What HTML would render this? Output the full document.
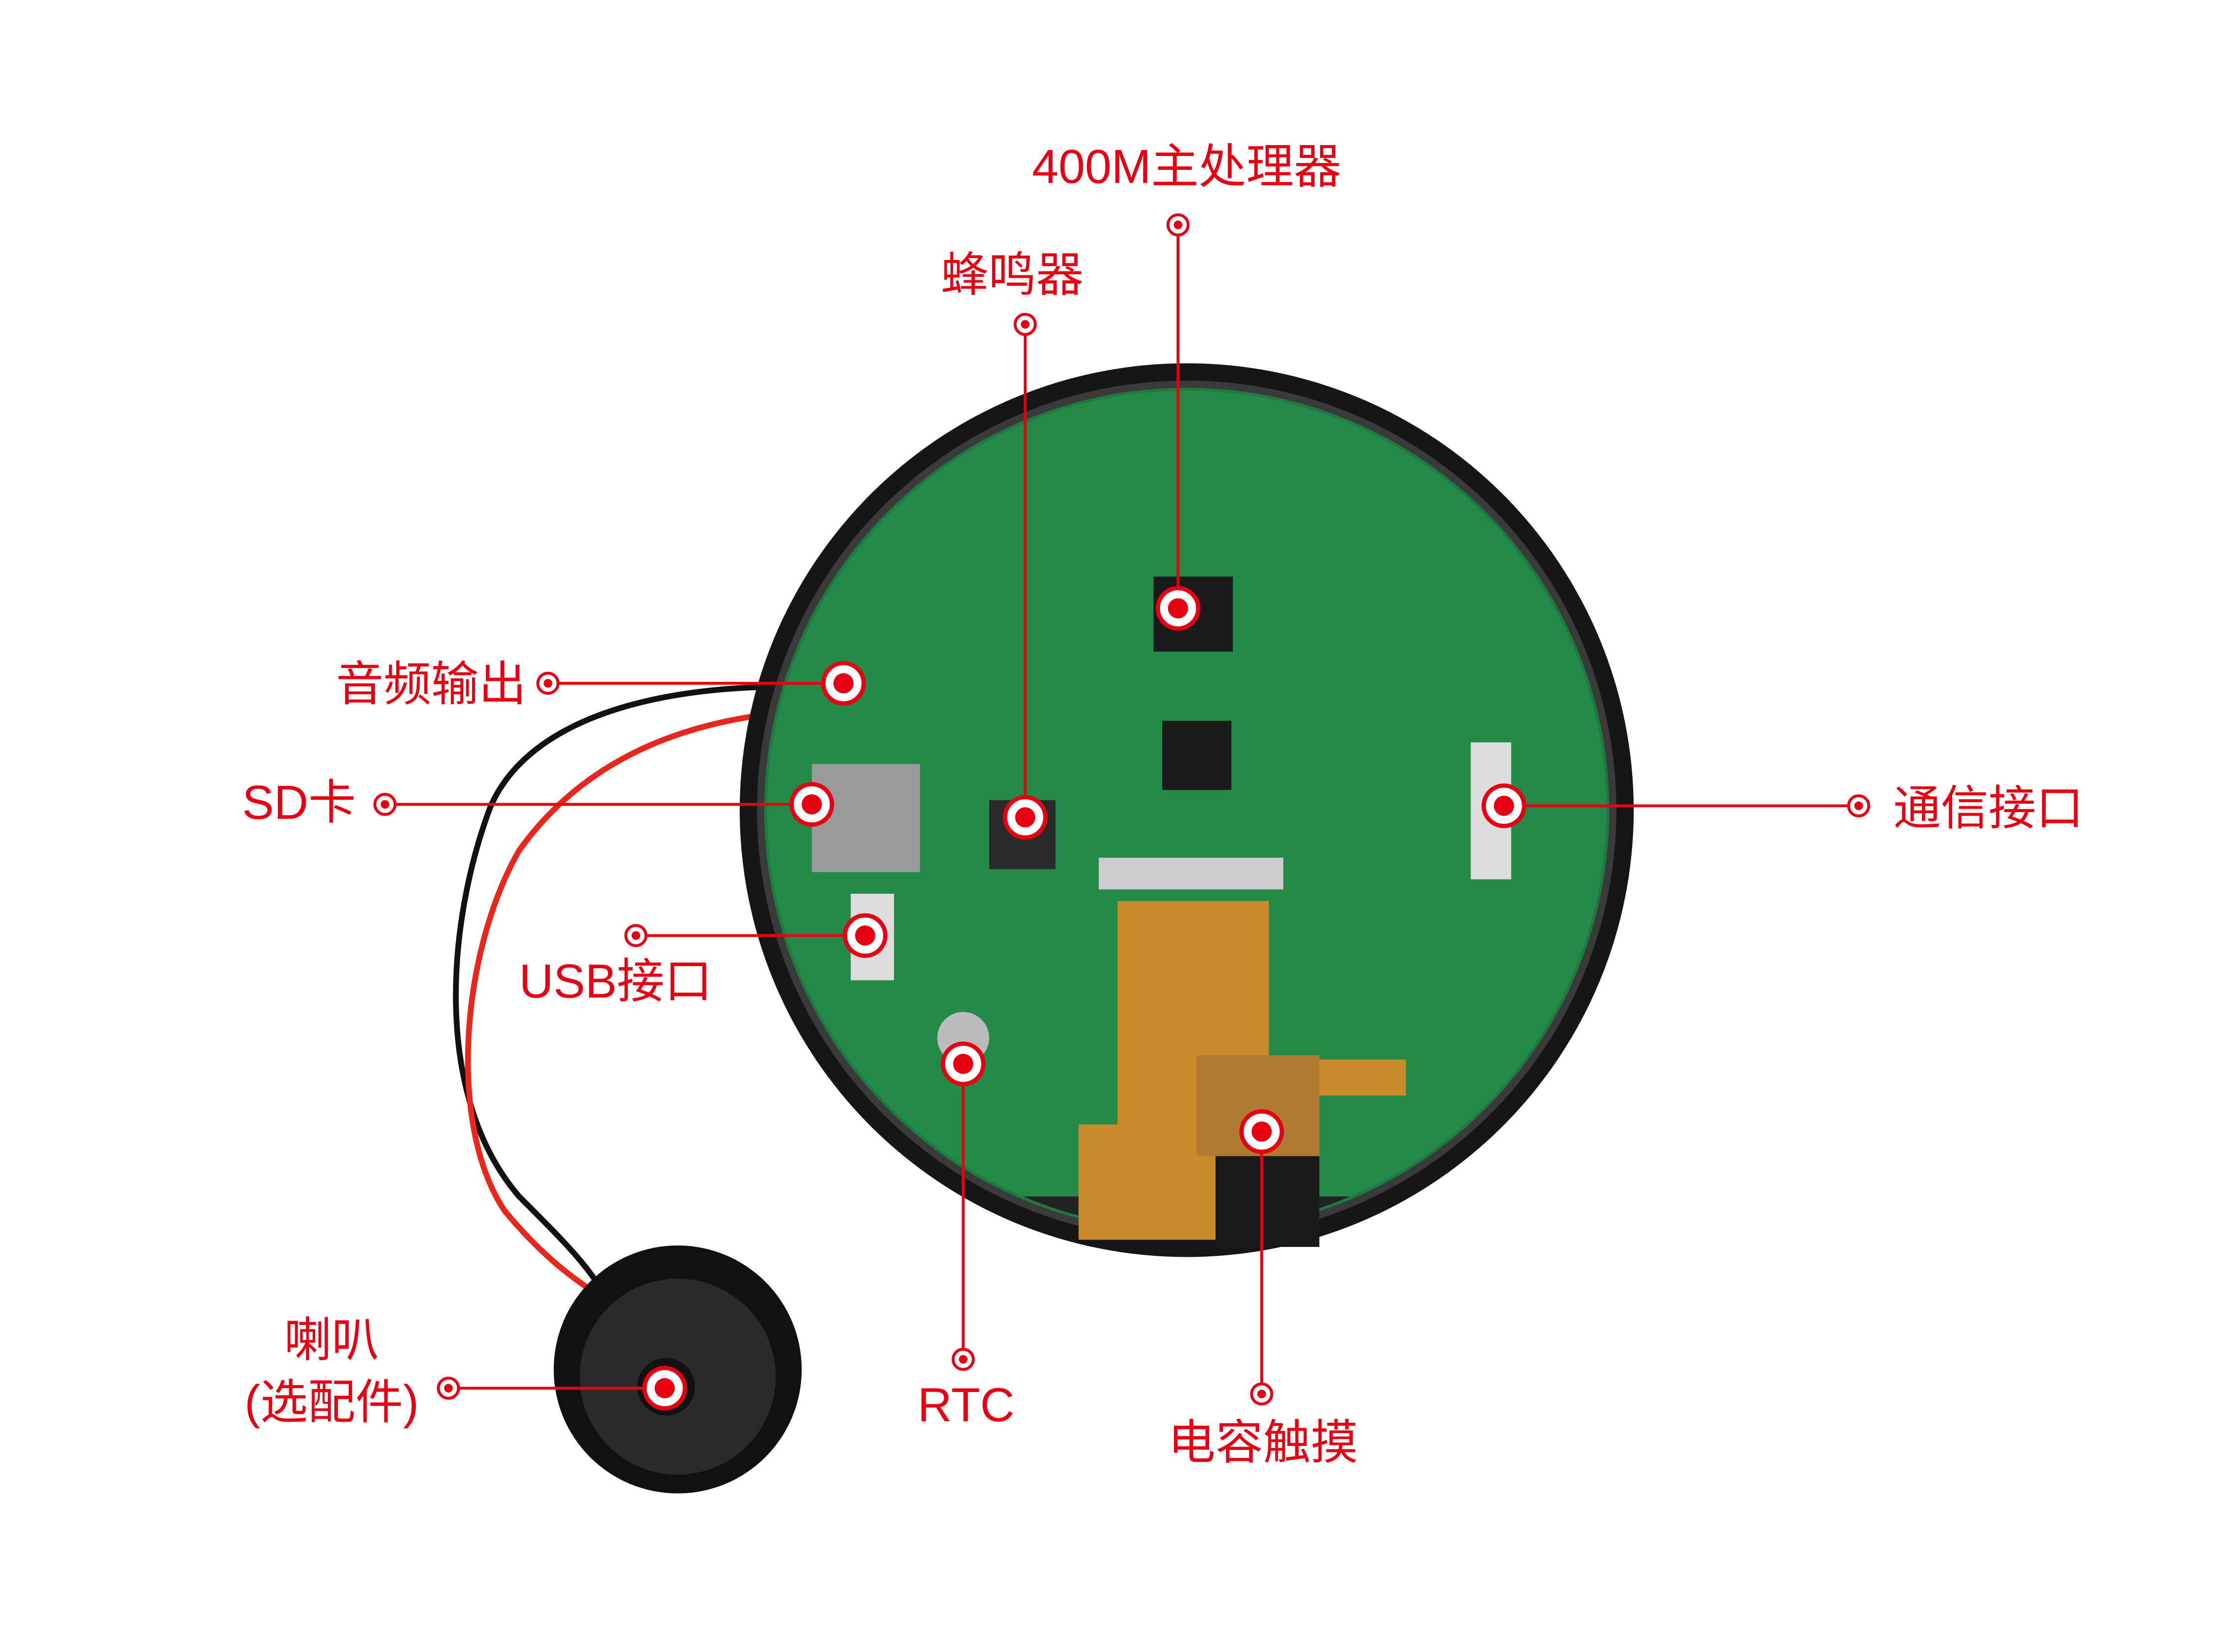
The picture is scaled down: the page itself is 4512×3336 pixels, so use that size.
<!DOCTYPE html>
<html><head><meta charset="utf-8"><style>
html,body{margin:0;padding:0;background:#fff;}
svg{display:block;}
text{font-family:"Liberation Sans","Noto Sans CJK SC",sans-serif;fill:#e60012;}
</style></head><body>
<svg width="4512" height="3336" viewBox="0 0 1550 1146" xmlns="http://www.w3.org/2000/svg">
<defs>
<g id="big"><circle r="14" fill="#fff" stroke="#e60012" stroke-width="3"/><circle r="7" fill="#e60012"/></g>
<g id="sm"><circle r="7" fill="#fff" stroke="#e60012" stroke-width="2"/><circle r="3" fill="#e60012"/></g>
<clipPath id="pcb"><circle cx="823" cy="562" r="292"/></clipPath>
</defs>
<!-- wires -->
<path d="M590 478 C480 470,370 490,340 560 C310 640,300 760,360 830 C390 860,410 880,420 900" fill="none" stroke="#111" stroke-width="4"/>
<path d="M590 492 C490 492,410 520,360 590 C320 660,310 780,350 840 C375 870,395 885,410 895" fill="none" stroke="#e8261b" stroke-width="4"/>
<!-- device -->
<circle cx="823" cy="562" r="310" fill="#161616"/>
<circle cx="823" cy="562" r="298" fill="#3a3a3a"/>
<g clip-path="url(#pcb)">
<rect x="500" y="260" width="700" height="580" fill="#238a4a"/>
<rect x="700" y="830" width="260" height="50" fill="#222"/>
</g>
<circle cx="823" cy="562" r="292" fill="none" stroke="#1e7a40" stroke-width="2"/>
<!-- chips -->
<rect x="800" y="400" width="55" height="52" fill="#1a1a1a"/>
<rect x="806" y="500" width="48" height="48" fill="#1a1a1a"/>
<rect x="686" y="555" width="46" height="48" fill="#2a2a2a"/>
<rect x="563" y="530" width="75" height="75" fill="#9a9a9a"/>
<rect x="1020" y="515" width="28" height="95" fill="#ddd"/>
<rect x="590" y="620" width="30" height="60" fill="#ddd"/>
<circle cx="668" cy="720" r="18" fill="#bbb"/>
<rect x="762" y="595" width="128" height="22" fill="#ccc"/>
<!-- flex -->
<path d="M775 625 H880 V735 H975 V760 H915 V860 H748 V780 H775 Z" fill="#c98a2e"/>
<rect x="843" y="800" width="72" height="65" fill="#1a1a1a"/>
<rect x="830" y="732" width="85" height="70" fill="#b07a30"/>
<!-- speaker -->
<circle cx="470" cy="950" r="86" fill="#111"/>
<circle cx="470" cy="955" r="68" fill="#2a2a2a"/>
<circle cx="462" cy="962" r="20" fill="#111"/>
<!-- lines -->
<g stroke="#e60012" stroke-width="2" fill="none">
<line x1="817" y1="156" x2="817" y2="422"/>
<line x1="711" y1="225" x2="711" y2="567"/>
<line x1="380" y1="474" x2="585" y2="474"/>
<line x1="267" y1="558" x2="563" y2="558"/>
<line x1="1043" y1="559" x2="1289" y2="559"/>
<line x1="441" y1="649" x2="600" y2="649"/>
<line x1="668" y1="738" x2="668" y2="943"/>
<line x1="875" y1="785" x2="875" y2="967"/>
<line x1="311" y1="963" x2="461" y2="963"/>
</g>
<use href="#sm" x="817" y="156"/><use href="#big" x="817" y="422"/>
<use href="#sm" x="711" y="225"/><use href="#big" x="711" y="567"/>
<use href="#sm" x="380" y="474"/><use href="#big" x="585" y="474"/>
<use href="#sm" x="267" y="558"/><use href="#big" x="563" y="558"/>
<use href="#sm" x="1289" y="559"/><use href="#big" x="1043" y="559"/>
<use href="#sm" x="441" y="649"/><use href="#big" x="600" y="649"/>
<use href="#sm" x="668" y="943"/><use href="#big" x="668" y="738"/>
<use href="#sm" x="875" y="967"/><use href="#big" x="875" y="785"/>
<use href="#sm" x="311" y="963"/><use href="#big" x="461" y="963"/>
<!-- labels -->
<g font-size="33">
<text x="823" y="127" text-anchor="middle">400M主处理器</text>
<text x="702" y="202" text-anchor="middle">蜂鸣器</text>
<text x="365" y="486" text-anchor="end">音频输出</text>
<text x="168" y="568">SD卡</text>
<text x="1313" y="572">通信接口</text>
<text x="360" y="692">USB接口</text>
<text x="670" y="986" text-anchor="middle">RTC</text>
<text x="876" y="1012" text-anchor="middle">电容触摸</text>
<text x="230" y="941" text-anchor="middle">喇叭</text>
<text x="230" y="984" text-anchor="middle">(选配件)</text>
</g>
</svg>
</body></html>
